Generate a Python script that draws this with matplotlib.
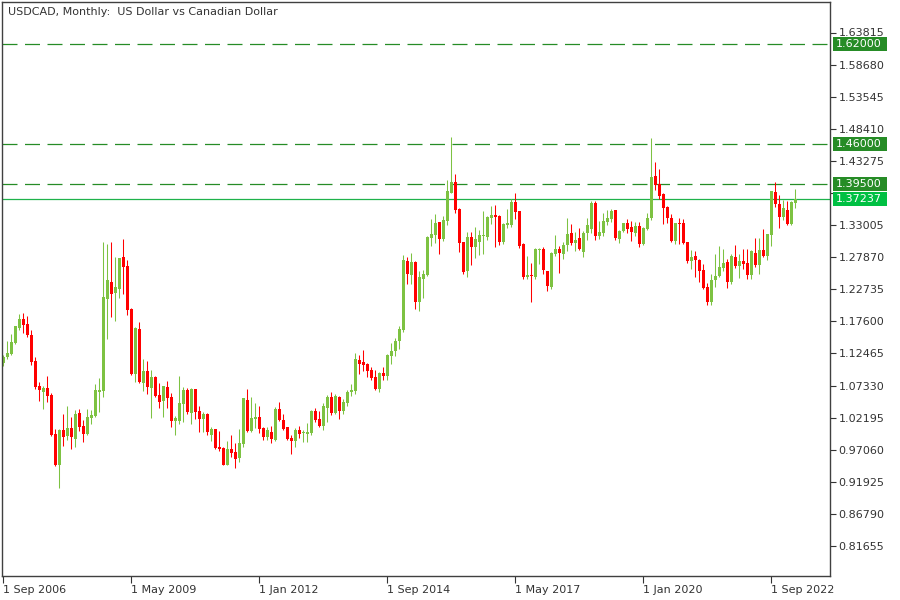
import matplotlib
matplotlib.use('Agg')
import matplotlib.pyplot as plt
import matplotlib.transforms as mtransforms
from matplotlib.patches import Rectangle
import numpy as np
import pandas as pd

# USDCAD monthly candles, first bar = Sep 2006
opens = [
    1.1088, 1.1191, 1.1239, 1.1420, 1.1650, 1.1799, 1.1719, 1.1543, 1.1127, 1.0733,
    1.0631, 1.0695, 1.0589, 0.9960, 0.9464, 1.0024, 0.9933, 1.0056, 0.9885, 1.0296,
    1.0088, 0.9960, 1.0221, 1.0253, 1.0626, 1.0653, 1.2119, 1.2396, 1.2220, 1.2279,
    1.2790, 1.2646, 1.1959, 1.0920, 1.1639, 1.0780, 1.0967, 1.0700, 1.0876, 1.0583,
    1.0487, 1.0711, 1.0551, 1.0172, 1.0172, 1.0444, 1.0668, 1.0300, 1.0684, 1.0327,
    1.0204, 1.0284, 0.9949, 1.0039, 0.9757, 0.9741, 0.9469, 0.9725, 0.9677, 0.9581,
    0.9805, 1.0508, 1.0012, 1.0204, 1.0236, 1.0050, 0.9917, 0.9992, 0.9869, 1.0360,
    1.0184, 1.0072, 0.9891, 0.9853, 1.0024, 0.9976, 0.9955, 0.9976, 1.0328, 1.0195,
    1.0088, 1.0376, 1.0551, 1.0296, 1.0551, 1.0328, 1.0456, 1.0631, 1.0647, 1.1143,
    1.1111, 1.1079, 1.0983, 1.0871, 1.0679, 1.0935, 1.0887, 1.1207, 1.1287, 1.1447,
    1.1620, 1.2727, 1.2503, 1.2711, 1.2071, 1.2439, 1.2503, 1.3095, 1.3143, 1.3351,
    1.3079, 1.3367, 1.3814, 1.3990, 1.3558, 1.3031, 1.2567, 1.3111, 1.2951, 1.3031,
    1.3127, 1.3111, 1.3415, 1.3463, 1.3447, 1.3031, 1.3303, 1.3303, 1.3670, 1.3526,
    1.2999, 1.2471, 1.2503, 1.2471, 1.2903, 1.2919, 1.2567, 1.2311, 1.2839, 1.2919,
    1.2839, 1.2983, 1.3175, 1.3015, 1.3095, 1.2871, 1.3175, 1.3239, 1.3654, 1.3127,
    1.3175, 1.3351, 1.3399, 1.3542, 1.3079, 1.3207, 1.3335, 1.3271, 1.3175, 1.3287,
    1.2999, 1.3239, 1.3415, 1.4086, 1.3958, 1.3798, 1.3590, 1.3415, 1.3047, 1.3335,
    1.3335, 1.3031, 1.2727, 1.2807, 1.2743, 1.2583, 1.2311, 1.2071, 1.2423, 1.2487,
    1.2615, 1.2711, 1.2391, 1.2791, 1.2647, 1.2727, 1.2695, 1.2503, 1.2855, 1.2663,
    1.2903, 1.2807, 1.3143, 1.3835, 1.3637, 1.3435, 1.3542, 1.3318, 1.3648,
]
highs = [
    1.1222, 1.1447, 1.1559, 1.1690, 1.1879, 1.1895, 1.1847, 1.1623, 1.1191, 1.0797,
    1.0733, 1.0893, 1.0616, 1.0040, 1.0040, 1.0280, 1.0408, 1.0232, 1.0344, 1.0360,
    1.0184, 1.0360, 1.0344, 1.0760, 1.0861, 1.3030, 1.2998, 1.3030, 1.2790, 1.2774,
    1.3078, 1.2742, 1.1975, 1.1671, 1.1751, 1.1153, 1.1127, 1.0983, 1.0887, 1.0775,
    1.0727, 1.0807, 1.0610, 1.0247, 1.0887, 1.0716, 1.0700, 1.0700, 1.0684, 1.0407,
    1.0316, 1.0300, 1.0076, 1.0039, 1.0007, 0.9757, 0.9853, 0.9949, 0.9821, 1.0044,
    1.0535, 1.0684, 1.0556, 1.0460, 1.0407, 1.0076, 1.0076, 1.0088, 1.0392, 1.0472,
    1.0280, 1.0072, 0.9939, 1.0050, 1.0088, 1.0024, 1.0136, 1.0344, 1.0376, 1.0322,
    1.0456, 1.0584, 1.0631, 1.0599, 1.0567, 1.0519, 1.0663, 1.0759, 1.1255, 1.1223,
    1.1303, 1.1095, 1.1031, 1.0983, 1.0951, 1.1031, 1.1239, 1.1415, 1.1495, 1.1687,
    1.2823, 1.2791, 1.2855, 1.2727, 1.2567, 1.2583, 1.3127, 1.3399, 1.3479, 1.3351,
    1.3447, 1.4022, 1.4710, 1.4118, 1.3574, 1.3031, 1.3191, 1.3191, 1.3271, 1.3223,
    1.3527, 1.3447, 1.3606, 1.3622, 1.3463, 1.3335, 1.3558, 1.3718, 1.3814, 1.3526,
    1.3015, 1.2807, 1.2695, 1.2935, 1.2935, 1.2951, 1.2567, 1.2871, 1.3143, 1.2967,
    1.3031, 1.3415, 1.3319, 1.3191, 1.3255, 1.3207, 1.3415, 1.3686, 1.3686, 1.3367,
    1.3494, 1.3542, 1.3558, 1.3542, 1.3223, 1.3335, 1.3399, 1.3367, 1.3351, 1.3351,
    1.3271, 1.3494, 1.4694, 1.4310, 1.4198, 1.3814, 1.3606, 1.3479, 1.3335, 1.3415,
    1.3399, 1.3031, 1.2903, 1.2887, 1.2759, 1.2679, 1.2375, 1.2519, 1.2839, 1.2967,
    1.2919, 1.2759, 1.2839, 1.2983, 1.2839, 1.2919, 1.2919, 1.2903, 1.3095, 1.3095,
    1.3239, 1.3159, 1.3850, 1.3994, 1.3782, 1.3702, 1.3686, 1.3690, 1.3878,
]
lows = [
    1.1046, 1.1159, 1.1223, 1.1394, 1.1623, 1.1580, 1.1516, 1.1069, 1.0685, 1.0493,
    1.0365, 1.0477, 0.9933, 0.9438, 0.9086, 0.9773, 0.9869, 0.9725, 0.9757, 1.0013,
    0.9837, 0.9944, 1.0120, 1.0237, 1.0317, 1.0557, 1.1484, 1.1836, 1.1772, 1.2135,
    1.2199, 1.1868, 1.0898, 1.0797, 1.0769, 1.0652, 1.0599, 1.0220, 1.0556, 1.0380,
    1.0236, 1.0380, 1.0076, 0.9949, 1.0124, 1.0156, 1.0274, 1.0124, 1.0204, 0.9997,
    0.9997, 0.9949, 0.9853, 0.9725, 0.9693, 0.9469, 0.9469, 0.9597, 0.9421, 0.9517,
    0.9757, 0.9997, 0.9997, 1.0060, 0.9981, 0.9869, 0.9869, 0.9821, 0.9848, 1.0168,
    1.0018, 0.9859, 0.9640, 0.9757, 0.9901, 0.9832, 0.9832, 0.9944, 1.0152, 1.0072,
    1.0024, 1.0152, 1.0264, 1.0280, 1.0200, 1.0280, 1.0408, 1.0567, 1.0599, 1.0919,
    1.0967, 1.0871, 1.0823, 1.0663, 1.0631, 1.0823, 1.0823, 1.1079, 1.1207, 1.1319,
    1.1590, 1.2359, 1.2359, 1.1959, 1.1927, 1.2135, 1.2487, 1.2967, 1.3015, 1.2839,
    1.3047, 1.3303, 1.3814, 1.3494, 1.2871, 1.2519, 1.2471, 1.2663, 1.2775, 1.2823,
    1.2839, 1.3063, 1.3319, 1.2951, 1.2983, 1.3000, 1.3255, 1.3271, 1.3399, 1.2935,
    1.2439, 1.2439, 1.2071, 1.2439, 1.2679, 1.2519, 1.2247, 1.2279, 1.2807, 1.2535,
    1.2759, 1.2887, 1.2983, 1.2887, 1.2903, 1.2791, 1.3063, 1.3175, 1.3063, 1.3079,
    1.3127, 1.3303, 1.3351, 1.3063, 1.3015, 1.3191, 1.3175, 1.3047, 1.3127, 1.2951,
    1.2983, 1.3223, 1.3383, 1.3862, 1.3718, 1.3318, 1.3335, 1.3031, 1.2999, 1.2999,
    1.2999, 1.2695, 1.2599, 1.2471, 1.2391, 1.2279, 1.2023, 1.2023, 1.2311, 1.2471,
    1.2567, 1.2295, 1.2359, 1.2615, 1.2455, 1.2599, 1.2439, 1.2439, 1.2631, 1.2519,
    1.2791, 1.2743, 1.2967, 1.3594, 1.3249, 1.3382, 1.3302, 1.3302, 1.3569,
]
closes = [
    1.1191, 1.1255, 1.1431, 1.1687, 1.1799, 1.1703, 1.1543, 1.1117, 1.0717, 1.0663,
    1.0695, 1.0573, 0.9944, 0.9464, 1.0024, 0.9907, 1.0056, 0.9907, 1.0280, 1.0077,
    0.9955, 1.0232, 1.0264, 1.0664, 1.0664, 1.2156, 1.2422, 1.2199, 1.2311, 1.2774,
    1.2636, 1.1943, 1.0914, 1.1655, 1.0797, 1.0967, 1.0716, 1.0865, 1.0572, 1.0476,
    1.0727, 1.0540, 1.0172, 1.0220, 1.0455, 1.0668, 1.0316, 1.0684, 1.0316, 1.0204,
    1.0284, 0.9997, 1.0039, 0.9741, 0.9725, 0.9469, 0.9725, 0.9661, 0.9565, 0.9821,
    1.0535, 1.0012, 1.0220, 1.0236, 1.0044, 0.9917, 1.0024, 0.9880, 1.0360, 1.0184,
    1.0040, 0.9875, 0.9853, 1.0024, 0.9965, 0.9987, 0.9997, 1.0328, 1.0179, 1.0088,
    1.0408, 1.0551, 1.0296, 1.0567, 1.0328, 1.0472, 1.0631, 1.0663, 1.1159, 1.1079,
    1.1063, 1.0967, 1.0855, 1.0679, 1.0935, 1.0887, 1.1223, 1.1287, 1.1447, 1.1639,
    1.2743, 1.2519, 1.2711, 1.2071, 1.2471, 1.2519, 1.3111, 1.3159, 1.3335, 1.3079,
    1.3383, 1.3846, 1.3990, 1.3542, 1.3015, 1.2551, 1.3111, 1.2951, 1.3079, 1.3143,
    1.3143, 1.3431, 1.3463, 1.3431, 1.3031, 1.3319, 1.3335, 1.3670, 1.3510, 1.2967,
    1.2471, 1.2503, 1.2487, 1.2919, 1.2919, 1.2583, 1.2327, 1.2855, 1.2919, 1.2855,
    1.2983, 1.3159, 1.3015, 1.3063, 1.2919, 1.3175, 1.3303, 1.3654, 1.3127, 1.3191,
    1.3367, 1.3415, 1.3526, 1.3095, 1.3207, 1.3335, 1.3239, 1.3191, 1.3287, 1.2999,
    1.3255, 1.3415, 1.4070, 1.3942, 1.3766, 1.3574, 1.3415, 1.3047, 1.3335, 1.3319,
    1.3015, 1.2727, 1.2791, 1.2743, 1.2567, 1.2295, 1.2071, 1.2423, 1.2487, 1.2631,
    1.2695, 1.2391, 1.2807, 1.2647, 1.2727, 1.2679, 1.2503, 1.2887, 1.2663, 1.2903,
    1.2807, 1.3159, 1.3850, 1.3633, 1.3435, 1.3574, 1.3318, 1.3674, 1.37237,
]

# horizontal levels drawn on the chart
levels = [1.62, 1.46, 1.395]
date_labels = ['2006-09-01', '2009-05-01', '2012-01-01', '2014-09-01',
               '2017-05-01', '2020-01-01', '2022-09-01']
price_ticks = [0.81655, 0.86790, 0.91925, 0.97060, 1.02195, 1.07330, 1.12465,
               1.17600, 1.22735, 1.27870, 1.33005, 1.38140, 1.43275, 1.48410,
               1.53545, 1.58680, 1.63815]

BULL = '#7DC242'
BEAR = '#FF0000'
LEVEL_C = '#268C26'
LAST_C = '#1EB24B'
LAST_BOX = '#00C043'
TXT = '#333333'

o = np.array(opens); h = np.array(highs); l = np.array(lows); c = np.array(closes)
x = np.arange(len(c))
months = pd.date_range('2006-09-01', periods=len(c), freq='MS')
colors = np.where(c >= o, BULL, BEAR)

fig = plt.figure(figsize=(9, 6), dpi=100)
ax = fig.add_axes([2 / 900, 24.5 / 600, 828 / 900, 573.5 / 600])

# candles
ax.vlines(x, l, h, colors=colors, linewidth=0.75, zorder=2)
ax.bar(x, np.maximum(np.abs(c - o), 0.0016), bottom=np.minimum(o, c),
       width=0.75, color=colors, linewidth=0, zorder=2)

# level lines
for lv in levels:
    ax.axhline(lv, color=LEVEL_C, lw=0.9, dashes=(12, 6), zorder=1)
ax.axhline(c[-1], color=LAST_C, lw=0.9, zorder=1)

ax.set_xlim(-0.25, 206.75)
ax.set_ylim(0.76935, 1.68695)

for sp in ax.spines.values():
    sp.set_color('#404040')
    sp.set_linewidth(1.0)

# the price boxes hide any tick label lying under them
box_h = 14 / 625
hidden = [v for v in price_ticks
          if any(abs(v - lv) < box_h * 0.6 for lv in levels + [c[-1]])]
ax.yaxis.tick_right()
ax.set_yticks(price_ticks)
ax.set_yticklabels(['' if v in hidden else f'{v:.5f}' for v in price_ticks])
ax.tick_params(axis='y', direction='out', length=4, width=0.8, pad=2,
               labelsize=8, colors=TXT)

pos = months.get_indexer(pd.to_datetime(date_labels))
ax.set_xticks(x[pos])
ax.set_xticklabels([f'{d.day} {d.strftime("%b %Y")}' for d in months[pos]], ha='left')
ax.tick_params(axis='x', direction='out', length=5, width=0.8, pad=2,
               labelsize=8, colors=TXT)

# price boxes on the right scale
trans = mtransforms.blended_transform_factory(ax.transAxes, ax.transData)
for lv, col in [(lv, LEVEL_C) for lv in levels] + [(c[-1], LAST_BOX)]:
    ax.add_patch(Rectangle((1 + 3 / 828, lv - box_h / 2), 54 / 828, box_h,
                           transform=trans, facecolor=col, edgecolor='none',
                           clip_on=False, zorder=5))
    ax.text(1 + 6 / 828, lv, f'{lv:.5f}', transform=trans, ha='left', va='center',
            fontsize=8, color='white', clip_on=False, zorder=6)

ax.text(6 / 828, 1 - 10 / 573.5, 'USDCAD, Monthly:  US Dollar vs Canadian Dollar',
        transform=ax.transAxes, ha='left', va='center', fontsize=8, color=TXT)

fig.savefig('out.png', dpi=100)
